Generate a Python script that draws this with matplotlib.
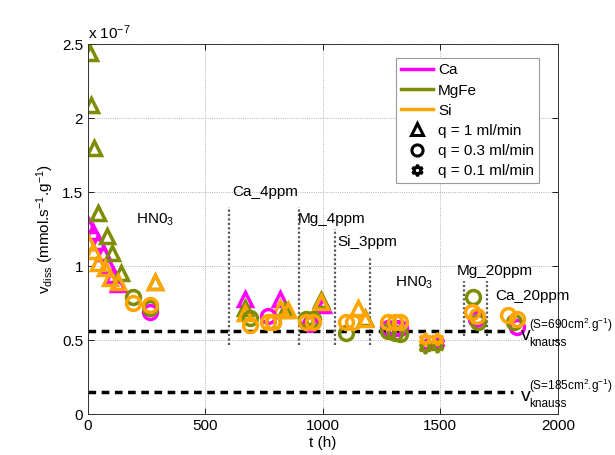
import matplotlib
matplotlib.use("Agg")
import matplotlib.pyplot as plt
from matplotlib.lines import Line2D
from matplotlib.ticker import FuncFormatter

plt.rcParams["font.family"] = ["Liberation Sans", "DejaVu Sans"]
plt.rcParams["mathtext.fontset"] = "custom"
plt.rcParams["mathtext.rm"] = "Liberation Sans"
plt.rcParams["mathtext.it"] = "Liberation Sans"

# v_diss in units of 1e-7 mmol.s-1.g-1, t in hours
# q = 1 ml/min (triangles)
ca_tri_t = [0, 21, 43, 64, 85, 106, 128, 668, 817, 1000]
ca_tri_v = [1.28, 1.23, 1.16, 1.09, 1.01, 0.94, 0.88, 0.78, 0.78, 0.74]
mg_tri_t = [8, 13, 26, 43, 81, 102, 140, 285, 668, 838, 994, 1180]
mg_tri_v = [2.44, 2.09, 1.80, 1.36, 1.20, 1.09, 0.95, 0.89, 0.72, 0.70, 0.77, 0.65]
si_tri_t = [0, 21, 43, 72, 94, 128, 285, 668, 817, 850, 994, 1150, 1180]
si_tri_v = [1.16, 1.10, 1.02, 0.99, 0.92, 0.89, 0.89, 0.68, 0.72, 0.70, 0.76, 0.72, 0.64]

# q = 0.3 ml/min (circles)
ca_cir_t = [264, 766, 945, 1277, 1306, 1328, 1650, 1825]
ca_cir_v = [0.69, 0.66, 0.61, 0.58, 0.58, 0.58, 0.64, 0.59]
mg_cir_t = [192, 264, 689, 787, 930, 958, 1100, 1277, 1306, 1328, 1638, 1660, 1812]
mg_cir_v = [0.79, 0.72, 0.65, 0.62, 0.64, 0.64, 0.55, 0.56, 0.55, 0.54, 0.79, 0.62, 0.62]
si_cir_t = [192, 264, 689, 766, 787, 930, 958, 1100, 1130, 1277, 1306, 1328, 1634, 1655, 1787, 1825]
si_cir_v = [0.75, 0.74, 0.60, 0.62, 0.62, 0.62, 0.62, 0.62, 0.62, 0.62, 0.62, 0.62, 0.69, 0.66, 0.67, 0.64]

# q = 0.1 ml/min (stars)
ca_star_t = [1440, 1490]
ca_star_v = [0.47, 0.48]
mg_star_t = [1434, 1485]
mg_star_v = [0.45, 0.46]
si_star_t = [1434, 1485]
si_star_v = [0.51, 0.51]

# knauss reference rates
knauss_v = [0.56, 0.15]
knauss_labels = ["690", "185"]

# phase boundaries: t, bottom, top
phase_t = [600, 900, 1050, 1200, 1600, 1700]
phase_lo = [0.47, 0.47, 0.47, 0.47, 0.53, 0.53]
phase_hi = [1.40, 1.40, 1.25, 1.07, 0.90, 0.90]

phase_names = ["HN0$_3$", "Ca_4ppm", "Mg_4ppm", "Si_3ppm", "HN0$_3$", "Mg_20ppm", "Ca_20ppm"]
phase_name_t = [204, 615, 895, 1060, 1305, 1570, 1735]
phase_name_v = [1.31, 1.50, 1.32, 1.16, 0.89, 0.97, 0.80]

c_ca = "#ff00ff"
c_mg = "#7f8c00"
c_si = "#ffa500"

fig = plt.figure(figsize=(6.15, 4.55), dpi=100)
ax = fig.add_axes([0.143, 0.090, 0.764, 0.813])

for t, lo, hi in zip(phase_t, phase_lo, phase_hi):
    ax.plot([t, t], [lo, hi], color="0.35", lw=1.6, ls=(0, (1, 1)))

for v in knauss_v:
    ax.plot([0, 1810], [v, v], color="k", lw=2.5, ls=(0, (2.2, 1.6)))

mk = dict(ls="none", mfc="none", mew=2.5)
for t, v, c in [(ca_tri_t, ca_tri_v, c_ca), (mg_tri_t, mg_tri_v, c_mg), (si_tri_t, si_tri_v, c_si)]:
    ax.plot(t, v, marker="^", ms=10.5, mec=c, **mk)
for t, v, c in [(ca_cir_t, ca_cir_v, c_ca), (mg_cir_t, mg_cir_v, c_mg), (si_cir_t, si_cir_v, c_si)]:
    ax.plot(t, v, marker="o", ms=10, mec=c, **mk)
for t, v, c in [(ca_star_t, ca_star_v, c_ca), (mg_star_t, mg_star_v, c_mg), (si_star_t, si_star_v, c_si)]:
    ax.plot(t, v, marker=(6, 1, 0), ms=9, mec=c, **mk)

for name, t, v in zip(phase_names, phase_name_t, phase_name_v):
    ax.text(t, v, name, fontsize=11, va="center", ha="left")

for v, s in zip(knauss_v, knauss_labels):
    ax.text(1843, v - 0.03, "v", fontsize=14, va="center", ha="left", clip_on=False)
    ax.text(1877, v + 0.04, r"(S=" + s + r"cm$^{2}$.g$^{-1}$)",
            fontsize=8.5, va="center", ha="left", clip_on=False)
    ax.text(1877, v - 0.08, "knauss", fontsize=8.5, va="center", ha="left", clip_on=False)

ax.set_xlim(0, 2000)
ax.set_ylim(0, 2.5)
ax.set_xticks([0, 500, 1000, 1500, 2000])
ax.set_yticks([0, 0.5, 1, 1.5, 2, 2.5])
ax.yaxis.set_major_formatter(FuncFormatter(lambda y, p: "%g" % y))
ax.tick_params(direction="in", top=True, right=True, labelsize=11, length=4, width=0.6)
ax.grid(True, color="0.6", ls=":", lw=0.6)
for s in ax.spines.values():
    s.set_linewidth(0.7)
    s.set_color("0.2")

ax.text(0, 1.005, r"x 10$^{-7}$", transform=ax.transAxes, fontsize=11, va="bottom")
ax.set_xlabel("t (h)", fontsize=11, labelpad=2)
ax.set_ylabel(r"v$_{\mathrm{diss}}$ (mmol.s$^{-1}$.g$^{-1}$)", fontsize=11, labelpad=4)

handles = [
    Line2D([], [], color=c_ca, lw=2.5, label="Ca"),
    Line2D([], [], color=c_mg, lw=2.5, label="MgFe"),
    Line2D([], [], color=c_si, lw=2.5, label="Si"),
    Line2D([], [], color="k", marker="^", ms=8, mfc="none", mew=2.2, ls="none", label="q = 1 ml/min"),
    Line2D([], [], color="k", marker="o", ms=8, mfc="none", mew=2.2, ls="none", label="q = 0.3 ml/min"),
    Line2D([], [], color="k", marker=(6, 1, 0), ms=8, mfc="none", mew=2.2, ls="none", label="q = 0.1 ml/min"),
]
leg = ax.legend(handles=handles, loc="upper right", bbox_to_anchor=(0.977, 0.983),
                fontsize=11, handlelength=2.1, handletextpad=0.3, labelspacing=0.4,
                borderpad=0.35, fancybox=False, framealpha=1)
leg.get_frame().set_edgecolor("0.6")
leg.get_frame().set_linewidth(0.8)

fig.savefig("out.png", dpi=100)
